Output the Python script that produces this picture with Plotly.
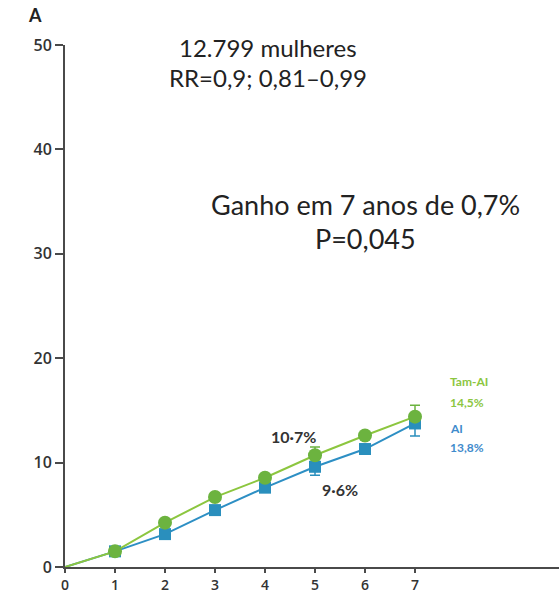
import plotly.graph_objects as go

years = [0, 1, 2, 3, 4, 5, 6, 7]
tam_ai = [0, 1.5, 4.25, 6.7, 8.55, 10.7, 12.6, 14.4]
ai = [0, 1.5, 3.15, 5.45, 7.6, 9.6, 11.3, 13.75]
tam_ai_err_up = [0, 0, 0, 0, 0, 0.8, 0, 1.1]
ai_err_down = [0, 0, 0, 0, 0, 0.8, 0, 1.2]
x_ticks = [0, 1, 2, 3, 4, 5, 6, 7]
y_ticks = [0, 10, 20, 30, 40, 50]

green_line = "#8cc63f"
green_mark = "#6cb33f"
blue_line = "#2d8fc4"
blue_mark = "#2a8fbd"
axis_col = "#4a4a4a"
txt = "#222222"
font_main = "Lato, 'Open Sans', sans-serif"

fig = go.Figure()

fig.add_trace(go.Scatter(
    x=years, y=ai, mode="lines",
    line=dict(color=blue_line, width=2), showlegend=False, hoverinfo="skip"))
fig.add_trace(go.Scatter(
    x=years[1:], y=ai[1:], mode="markers",
    marker=dict(symbol="square", size=12, color=blue_mark),
    error_y=dict(type="data", symmetric=False, array=[0] * 7,
                 arrayminus=ai_err_down[1:], color=blue_mark, thickness=1.5, width=5),
    showlegend=False))

fig.add_trace(go.Scatter(
    x=years, y=tam_ai, mode="lines",
    line=dict(color=green_line, width=2), showlegend=False, hoverinfo="skip"))
fig.add_trace(go.Scatter(
    x=years[1:], y=tam_ai[1:], mode="markers",
    marker=dict(symbol="circle", size=14, color=green_mark),
    error_y=dict(type="data", symmetric=False, array=tam_ai_err_up[1:],
                 arrayminus=[0] * 7, color=green_mark, thickness=1.5, width=5),
    showlegend=False))

def note(x, y, text, size, color=txt, xanchor="center", bold=False, xref="x", yref="y"):
    fig.add_annotation(
        x=x, y=y, xref=xref, yref=yref, text=text, showarrow=False,
        xanchor=xanchor, yanchor="middle",
        font=dict(family=font_main, size=size, color=color,
                  weight="bold" if bold else "normal"))

# panel letter sits above the axes, so it is placed in paper coordinates
note(-0.06, 1.058, "A", 18, bold=True, xref="paper", yref="paper")
note(4.06, 49.8, "12.799 mulheres", 24)
note(4.06, 46.9, "RR=0,9; 0,81–0,99", 24)
note(6.0, 34.7, "Ganho em 7 anos de 0,7%", 27)
note(6.0, 31.5, "P=0,045", 27)
note(4.56, 12.5, "10·7%", 16, color="#333333", bold=True)
note(5.5, 7.4, "9·6%", 16, color="#333333", bold=True)
note(7.66, 17.8, "Tam-AI", 12, color=green_line, xanchor="left", bold=True)
note(7.66, 15.8, "14,5%", 12, color=green_line, xanchor="left", bold=True)
note(7.66, 13.3, "AI", 12, color="#3f8bcc", xanchor="left", bold=True)
note(7.66, 11.4, "13,8%", 12, color="#3f8bcc", xanchor="left", bold=True)

y_tick_font = dict(family="'Open Sans', sans-serif", size=16, color="#333333", weight=600)
x_tick_font = dict(family="'Open Sans', sans-serif", size=14, color="#333333", weight=600)

fig.update_xaxes(
    range=[0, 9.88], tickvals=x_ticks, ticktext=[str(v) for v in x_ticks],
    showline=True, linecolor=axis_col, linewidth=2, ticks="outside",
    ticklen=4, tickwidth=2, tickcolor=axis_col, showgrid=False, zeroline=False,
    tickfont=x_tick_font, fixedrange=True, automargin=False)
fig.update_yaxes(
    range=[0, 50], tickvals=y_ticks, ticktext=[str(v) for v in y_ticks],
    showline=True, linecolor=axis_col, linewidth=2, ticks="outside",
    ticklen=8, tickwidth=2, tickcolor=axis_col, showgrid=False, zeroline=False,
    tickfont=y_tick_font, fixedrange=True, automargin=False)

fig.update_layout(
    width=559, height=594,
    margin=dict(l=65, r=0, t=45, b=27),
    paper_bgcolor="white", plot_bgcolor="white",
    showlegend=False)

fig.write_html("out.html")
